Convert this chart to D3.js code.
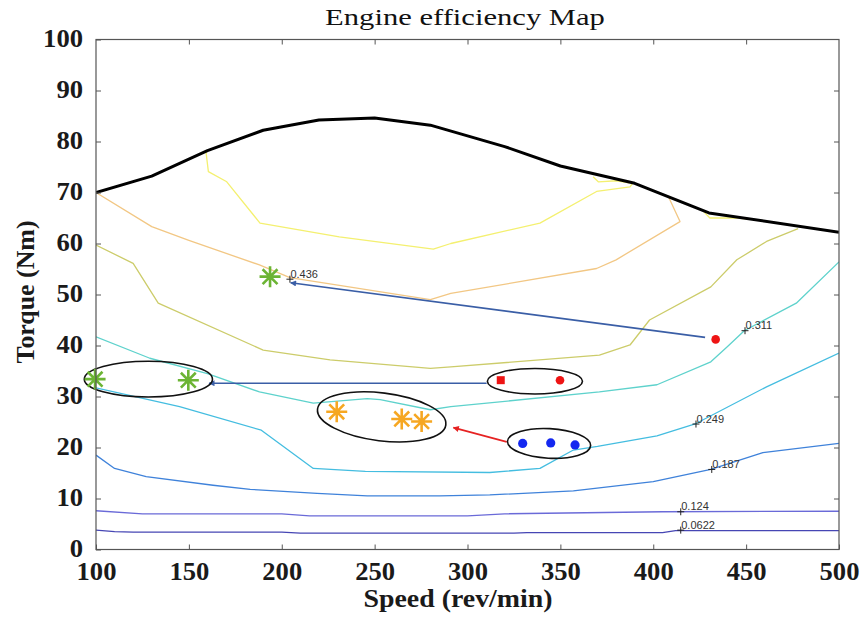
<!DOCTYPE html>
<html>
<head>
<meta charset="utf-8">
<script src="https://cdn.jsdelivr.net/npm/d3@7"></script>
<style>
  html, body { margin: 0; padding: 0; background: #fff; }
  svg { display: block; }
</style>
</head>
<body>
<svg id="chart" width="864" height="618"></svg>
<script>
// Axis ticks
const speedTicks = [100, 150, 200, 250, 300, 350, 400, 450, 500];
const torqueTicks = [0, 10, 20, 30, 40, 50, 60, 70, 80, 90, 100];

// Maximum-torque envelope [speed, torque]
const maxTorque = [[100,70],[130,73.2],[160,78.2],[190,82.2],[220,84.2],[250,84.6],[280,83.2],[320,79],[350,75.2],[390,71.8],[430,66],[500,62.2]];

// Iso-efficiency contours [speed, torque]
const eff0622 = [[100,3.8],[110,3.5],[120,3.4],[200,3.4],[210,3.2],[325,3.2],[332,3.3],[405,3.3],[412,3.7],[500,3.7]];
const eff124 = [[100,7.6],[125,7.0],[200,7.0],[215,6.6],[300,6.6],[320,7.0],[405,7.4],[500,7.5]];
const eff187 = [[100,18.5],[110,15.9],[127,14.3],[163,12.6],[183,11.8],[219,11.0],[246,10.5],[285,10.5],[312,10.7],[357,11.5],[400,13.3],[431,15.7],[459,19.0],[500,20.8]];
const eff249 = [[100,31.7],[145,28],[189,23.4],[217,15.9],[245,15.3],[312,15.1],[339,15.9],[357,19.5],[370,20.2],[402,22.3],[423,24.7],[461,31.9],[500,38.5]];
const eff311 = [[100,41.7],[129,37.5],[160,34.5],[188,30.9],[217,28.7],[246,29.6],[253,29.4],[280,27.4],[291,28.0],[371,30.9],[402,32.3],[431,36.8],[440,39.8],[449,42.9],[477,48.3],[500,56.4]];
const eff373 = [[100,59.7],[120,56.1],[133.5,48.3],[190,39.1],[226,37.2],[280,35.5],[291,35.8],[371,38.1],[387.5,40.1],[398,45.0],[431,51.5],[445,56.8],[461,60.4],[478,62.9]];
const eff436 = [[100,70],[130,63.3],[150,60.6],[188,55.8],[204.4,53.3],[280,49],[291,50.2],[369.5,55.1],[380,56.8],[414.4,64.3],[408,69.3]];
const eff498 = [[159.2,78],[160.5,74.1],[170.4,72.1],[188.3,64.0],[231,61.3],[281.6,58.9],[291,60.0],[339,64.0],[369.5,70.2],[387.5,71.1],[389,71.9]];
const eff498b = [[367.6,73.1],[370.4,72.1],[380.3,72.3],[387,71.9]];
const eff498c = [[427,66.3],[430.5,65.0],[445,65.0],[452,64.8]];

// Contour labels: [text, speed, torque]
const contourLabels = [["0.436",204.4,53.0],["0.311",449.4,42.9],["0.249",423,24.6],["0.187",431.5,15.7],["0.124",414.8,7.4],["0.0622",414.8,3.8]];

// Operating points [speed, torque]
const greenStars = [[193.7,53.5],[99.5,33.4],[149.7,33.2]];
const orangeStars = [[229.6,27.0],[264.6,25.6],[275.3,25.1]];
const redDots = [[433.6,41.2],[349.8,33.2]];
const redSquares = [[317.9,33.2]];
const blueDots = [[329.7,20.8],[344.8,20.9],[357.9,20.5]];

// Groupings: [centre speed, centre torque, half-width (rev/min), half-height (Nm), tilt deg]
const groupRings = [[128.2,33.4,34.5,3.5,0],[253.8,26.0,34.8,4.7,7],[336.3,33.0,25.6,2.5,0],[343.9,20.8,22.4,2.9,3]];

// Shifts between operating points: [[fromSpeed, fromTorque], [toSpeed, toTorque]]
const blueShifts = [[[427.9,41.6],[204.8,52.3]],[[310.3,32.6],[160.9,32.6]]];
const redShifts = [[[321.1,21.1],[292.4,23.9]]];

const svg = d3.select("#chart");
const margin = {left: 96, right: 25, top: 39.5, bottom: 68.5};
const W = 864, H = 618;

const x = d3.scaleLinear().domain([100, 500]).range([margin.left, W - margin.right]);
const y = d3.scaleLinear().domain([0, 100]).range([H - margin.bottom, margin.top]);

const line = d3.line().x(d => x(d[0])).y(d => y(d[1]));

const defs = svg.append("defs");
defs.append("clipPath").attr("id", "plotClip").append("rect")
  .attr("x", x(100)).attr("y", y(100))
  .attr("width", x(500) - x(100)).attr("height", y(0) - y(100));

function arrowMarker(id, color) {
  defs.append("marker")
    .attr("id", id).attr("viewBox", "0 0 10 10")
    .attr("refX", 9).attr("refY", 5)
    .attr("markerWidth", 7).attr("markerHeight", 6)
    .attr("markerUnits", "userSpaceOnUse")
    .attr("orient", "auto")
    .append("path").attr("d", "M0,0 L10,5 L0,10 z").attr("fill", color);
}
arrowMarker("arrowBlue", "#3a5ea6");
arrowMarker("arrowRed", "#e62222");

const plot = svg.append("g").attr("clip-path", "url(#plotClip)");

// Contours
const contours = [
  [eff0622, "#4646b4"],
  [eff124, "#6a6ad8"],
  [eff187, "#3f82da"],
  [eff249, "#44bde0"],
  [eff311, "#5ed2cc"],
  [eff373, "#cccc6a"],
  [eff436, "#f2c784"],
  [eff498, "#f4f070"],
  [eff498b, "#f4f070"],
  [eff498c, "#f4f070"]
];
contours.forEach(([pts, color]) => {
  plot.append("path").datum(pts)
    .attr("d", line)
    .attr("fill", "none")
    .attr("stroke", color)
    .attr("stroke-width", 1.3)
    .attr("stroke-linejoin", "round");
});

// Envelope
plot.append("path").datum(maxTorque)
  .attr("d", line)
  .attr("fill", "none")
  .attr("stroke", "#000")
  .attr("stroke-width", 3)
  .attr("stroke-linejoin", "round");

// Contour labels
const lbl = svg.append("g");
contourLabels.forEach(([t, s, q]) => {
  const px = x(s), py = y(q);
  lbl.append("path")
    .attr("d", `M${px-3.5},${py}H${px+3.5}M${px},${py-3.5}V${py+3.5}`)
    .attr("stroke", "#222").attr("stroke-width", 1);
  lbl.append("text")
    .attr("x", px + 0.5).attr("y", py - 1.5)
    .attr("font-family", "Liberation Sans, Arial, sans-serif")
    .attr("font-size", 11)
    .attr("fill", "#333")
    .text(t);
});

// Arrows
const ann = svg.append("g");
blueShifts.forEach(([a, b]) => {
  ann.append("line")
    .attr("x1", x(a[0])).attr("y1", y(a[1]))
    .attr("x2", x(b[0])).attr("y2", y(b[1]))
    .attr("stroke", "#3a5ea6").attr("stroke-width", 1.6)
    .attr("marker-end", "url(#arrowBlue)");
});
redShifts.forEach(([a, b]) => {
  ann.append("line")
    .attr("x1", x(a[0])).attr("y1", y(a[1]))
    .attr("x2", x(b[0])).attr("y2", y(b[1]))
    .attr("stroke", "#e62222").attr("stroke-width", 1.6)
    .attr("marker-end", "url(#arrowRed)");
});

// Group rings
groupRings.forEach(([s, q, rs, rq, rot]) => {
  const cx = x(s), cy = y(q);
  ann.append("ellipse")
    .attr("cx", cx).attr("cy", cy)
    .attr("rx", x(s + rs) - cx).attr("ry", cy - y(q + rq))
    .attr("transform", `rotate(${rot},${cx},${cy})`)
    .attr("fill", "none").attr("stroke", "#111").attr("stroke-width", 1.6);
});

// Asterisk markers
function stars(pts, color) {
  const r = 10.5;
  pts.forEach(([s, q]) => {
    const cx = x(s), cy = y(q);
    let d = "";
    for (let k = 0; k < 4; k++) {
      const a = k * Math.PI / 4;
      const dx = r * Math.cos(a), dy = r * Math.sin(a);
      d += `M${cx-dx},${cy-dy}L${cx+dx},${cy+dy}`;
    }
    ann.append("path").attr("d", d)
      .attr("stroke", color).attr("stroke-width", 2.6)
      .attr("stroke-linecap", "butt").attr("fill", "none");
  });
}
stars(greenStars, "#6cb434");
stars(orangeStars, "#f6a722");

ann.selectAll(".rdot").data(redDots).enter().append("circle")
  .attr("cx", d => x(d[0])).attr("cy", d => y(d[1])).attr("r", 4.3)
  .attr("fill", "#ee1414");
ann.selectAll(".rsq").data(redSquares).enter().append("rect")
  .attr("x", d => x(d[0]) - 4).attr("y", d => y(d[1]) - 4)
  .attr("width", 8).attr("height", 8)
  .attr("fill", "#ee1414");
ann.selectAll(".bdot").data(blueDots).enter().append("circle")
  .attr("cx", d => x(d[0])).attr("cy", d => y(d[1])).attr("r", 4.6)
  .attr("fill", "#1428f0");

// Axes frame and ticks
const serif = "Liberation Serif, Times New Roman, serif";
const axisColor = "#555";

function styleAxis(g, showText) {
  g.select(".domain").remove();
  g.selectAll(".tick line").attr("stroke", axisColor).attr("stroke-width", 1);
  if (showText) {
    g.selectAll(".tick text")
      .attr("font-family", serif).attr("font-size", 25)
      .attr("font-weight", "bold").attr("fill", "#1a1a1a")
      .attr("textLength", function() { return this.textContent.length * 13.3; })
      .attr("lengthAdjust", "spacingAndGlyphs");
  } else {
    g.selectAll(".tick text").remove();
  }
}

const xAxis = svg.append("g").attr("transform", `translate(0,${y(0)})`)
  .call(d3.axisBottom(x).tickValues(speedTicks).tickSizeInner(-5).tickSizeOuter(0).tickPadding(13));
styleAxis(xAxis, true);
const xAxisTop = svg.append("g").attr("transform", `translate(0,${y(100)})`)
  .call(d3.axisTop(x).tickValues(speedTicks.slice(1, -1)).tickSizeInner(-5).tickSizeOuter(0));
styleAxis(xAxisTop, false);
const yAxis = svg.append("g").attr("transform", `translate(${x(100)},0)`)
  .call(d3.axisLeft(y).tickValues(torqueTicks).tickSizeInner(-5).tickSizeOuter(0).tickPadding(13));
styleAxis(yAxis, true);
yAxis.selectAll(".tick text").attr("dy", "0.28em");
const yAxisRight = svg.append("g").attr("transform", `translate(${x(500)},0)`)
  .call(d3.axisRight(y).tickValues(torqueTicks.slice(1, -1)).tickSizeInner(-5).tickSizeOuter(0));
styleAxis(yAxisRight, false);

svg.append("rect")
  .attr("x", x(100)).attr("y", y(100))
  .attr("width", x(500) - x(100)).attr("height", y(0) - y(100))
  .attr("fill", "none").attr("stroke", axisColor).attr("stroke-width", 1.2);

// Title: widened serif lettering, scaled to a fixed span
const title = svg.append("g").attr("transform", "translate(465,25)");
const titleText = title.append("text")
  .attr("text-anchor", "middle")
  .attr("font-family", serif).attr("font-size", 23)
  .attr("fill", "#111")
  .text("Engine efficiency Map");
const natural = titleText.node().getComputedTextLength();
titleText.attr("transform", `scale(${280 / natural},1)`);

svg.append("text")
  .attr("x", 458).attr("y", 607)
  .attr("text-anchor", "middle")
  .attr("font-family", serif).attr("font-size", 25).attr("font-weight", "bold")
  .attr("textLength", 189).attr("lengthAdjust", "spacingAndGlyphs")
  .attr("fill", "#1a1a1a")
  .text("Speed (rev/min)");

svg.append("text")
  .attr("transform", "translate(34,292) rotate(-90)")
  .attr("text-anchor", "middle")
  .attr("font-family", serif).attr("font-size", 25).attr("font-weight", "bold")
  .attr("textLength", 143).attr("lengthAdjust", "spacingAndGlyphs")
  .attr("fill", "#1a1a1a")
  .text("Torque (Nm)");
</script>
</body>
</html>
